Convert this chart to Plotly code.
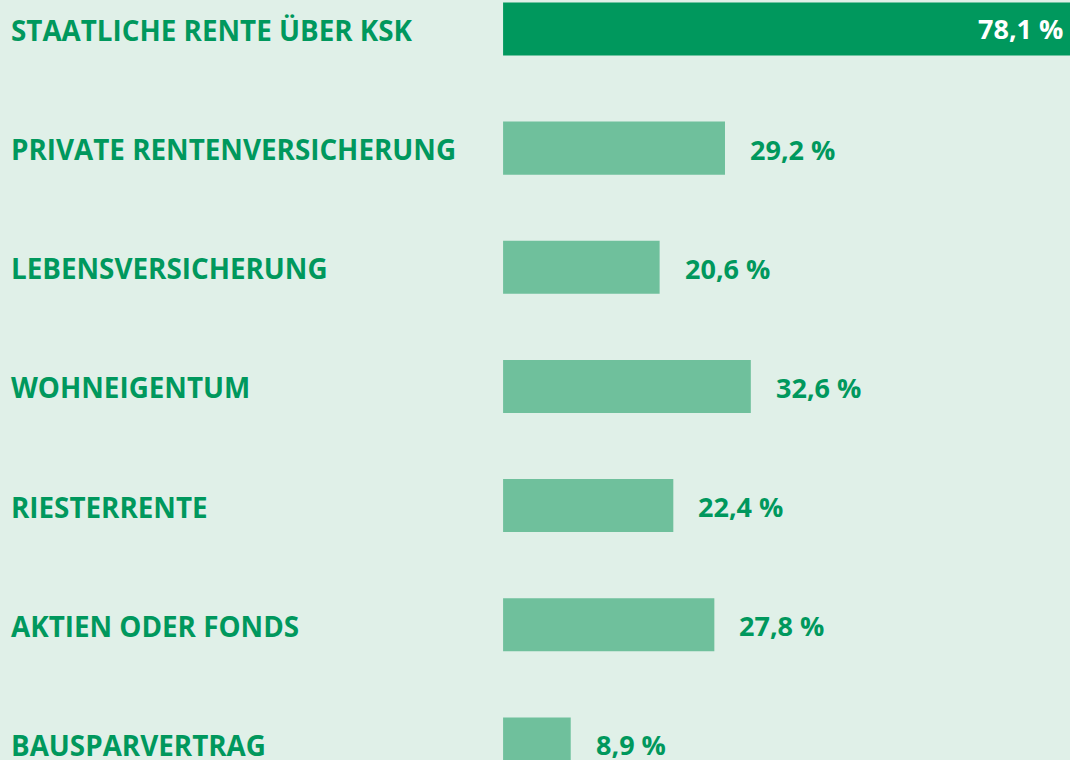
import plotly.graph_objects as go

categories = [
    "STAATLICHE RENTE ÜBER KSK",
    "PRIVATE RENTENVERSICHERUNG",
    "LEBENSVERSICHERUNG",
    "WOHNEIGENTUM",
    "RIESTERRENTE",
    "AKTIEN ODER FONDS",
    "BAUSPARVERTRAG",
]
values = [78.1, 29.2, 20.6, 32.6, 22.4, 27.8, 8.9]
value_labels = ["78,1 %", "29,2 %", "20,6 %", "32,6 %", "22,4 %", "27,8 %", "8,9 %"]

BG = "#E0F0E8"
DARK = "#00985D"
LIGHT = "#6FC09C"
FONT = "Open Sans"
FS_CAT = 27.8
FS_VAL = 27

colors = [DARK] + [LIGHT] * (len(values) - 1)
ypos = list(range(len(categories)))

fig = go.Figure()
fig.add_trace(go.Bar(
    x=values, y=ypos, orientation="h",
    marker=dict(color=colors, line=dict(width=0)),
    width=0.445, hoverinfo="skip",
))

annotations = []
for i, (cat, v, lab) in enumerate(zip(categories, values, value_labels)):
    annotations.append(dict(
        x=0, xref="paper", y=i, yref="y", text=f"<b>{cat}</b>",
        showarrow=False, xanchor="left", yanchor="middle", xshift=9, yshift=-1,
        font=dict(family=FONT, size=FS_CAT, color=DARK),
    ))
    if i == 0:
        annotations.append(dict(
            x=1, xref="paper", y=i, yref="y", text=f"<b>{lab}</b>",
            showarrow=False, xanchor="right", yanchor="middle", xshift=-5,
            font=dict(family=FONT, size=FS_VAL, color="white"),
        ))
    else:
        annotations.append(dict(
            x=v, xref="x", y=i, yref="y", text=f"<b>{lab}</b>",
            showarrow=False, xanchor="left", yanchor="middle", xshift=23, yshift=-1,
            font=dict(family=FONT, size=FS_VAL, color=DARK),
        ))

fig.update_layout(
    width=1070, height=760,
    margin=dict(l=0, r=0, t=0, b=0),
    paper_bgcolor=BG, plot_bgcolor=BG,
    showlegend=False,
    xaxis=dict(range=[-66.2, 74.6], visible=False, fixedrange=True),
    yaxis=dict(range=[6.135, -0.243], visible=False, fixedrange=True),
    annotations=annotations,
)

fig.write_html(
    "out.html",
    config={"displayModeBar": False},
    post_script="document.body.style.margin='0';document.body.style.overflow='hidden';",
)
